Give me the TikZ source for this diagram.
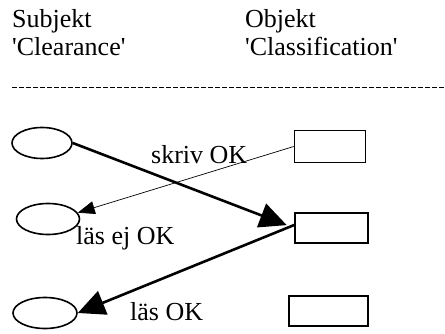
\documentclass[tikz,border=0pt]{standalone}
\usepackage{fontspec}
\setmainfont{Liberation Serif}
\usetikzlibrary{shapes.geometric, arrows.meta, positioning, calc}

\begin{document}
\begin{tikzpicture}[x=1pt, y=-1pt,
  subj/.style={ellipse, draw, line width=1.6pt, minimum width=60pt, minimum height=31pt, inner sep=0pt},
  obj/.style={rectangle, draw, line width=1.6pt, minimum width=71pt, minimum height=32pt, inner sep=0pt},
  txt/.style={anchor=base west, inner sep=0pt, font=\fontsize{26}{28}\selectfont},
  bigarr/.style={draw, line width=2.6pt, -{Triangle[length=27pt, width=25pt]}},
  thinarr/.style={draw, line width=0.7pt, -{Triangle[length=17pt, width=13pt]}}
]
\useasboundingbox (0,0) rectangle (445,334);

%% rubriker
\node[txt] (hsub)  at (12, 28) {Subjekt};
\node[txt] (hclr)  at (12, 56) {\textquotesingle Clearance\textquotesingle};
\node[txt] (hobj)  at (245, 28) {Objekt};
\node[txt] (hcls)  at (245, 56) {\textquotesingle Classification\textquotesingle};

%% streckad linje
\coordinate (dl) at (12, 87);
\coordinate (dr) at (445, 87);
\draw[line width=0.8pt, dash pattern=on 5pt off 2pt] (dl) -- (dr);

%% subjekt (vänster) och objekt (höger)
\node[subj] (s1) at (42, 143) {};
\node[subj, minimum width=63pt] (s2) at (48, 219) {};
\node[subj, minimum width=64pt] (s3) at (45, 313) {};

\node[obj] (o1) at (330, 146.5) {};
\node[obj, minimum width=73pt, minimum height=30pt] (o2) at (331.5, 228) {};
\node[obj, minimum width=79pt, minimum height=30pt] (o3) at (328.5, 311) {};

%% pilar
\draw[bigarr, shorten >=8pt] (s1.east) -- (o2.west);
\draw[thinarr] (o1.west) -- (s2.12);
\draw[bigarr] ([yshift=3pt]o2.west) -- (s3.east);

%% etiketter
\node[txt] (lskriv) at (151, 164) {skriv OK};
\node[txt] (lejok)  at (76, 244) {läs ej OK};
\node[txt] (lok)    at (130, 320) {läs OK};

\end{tikzpicture}
\end{document}
